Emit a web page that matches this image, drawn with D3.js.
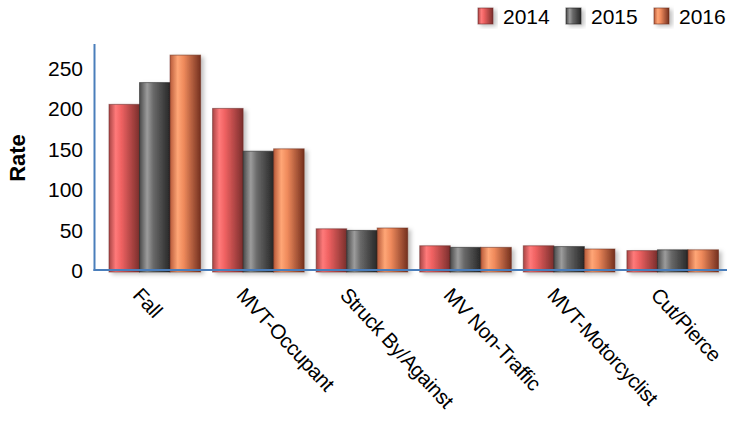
<!DOCTYPE html>
<html>
<head>
<meta charset="utf-8">
<script src="https://cdn.jsdelivr.net/npm/d3@7"></script>
<style>
  body { margin: 0; background: #fff; }
  svg { display: block; font-family: "Liberation Sans", Arial, sans-serif; }
</style>
</head>
<body>
<svg id="chart" width="730" height="424"></svg>
<script>
const categories = ["Fall", "MVT-Occupant", "Struck By/Against", "MV Non-Traffic", "MVT-Motorcyclist", "Cut/Pierce"];
const seriesNames = ["2014", "2015", "2016"];
const values2014 = [205, 200, 51, 30, 30, 24];
const values2015 = [232, 147, 49, 28, 29, 25];
const values2016 = [266, 150, 52, 28, 26, 25];
const yTicks = [0, 50, 100, 150, 200, 250];
const yTitle = "Rate";

const seriesValues = [values2014, values2015, values2016];
const gradStops = [
  [["0%", "#a84444"], ["22%", "#ff7a7a"], ["40%", "#f06262"], ["100%", "#7a2e2c"]],
  [["0%", "#4a4a4a"], ["25%", "#9c9c9c"], ["45%", "#6a6a6a"], ["100%", "#262626"]],
  [["0%", "#b85a3a"], ["25%", "#ffa676"], ["45%", "#ef8a5c"], ["100%", "#74301e"]]
];
const edgeColors = ["#6a2a28", "#202020", "#6a2c1c"];

const svg = d3.select("#chart");
const defs = svg.append("defs");
gradStops.forEach((stops, i) => {
  const g = defs.append("linearGradient").attr("id", "g" + i)
    .attr("x1", "0%").attr("x2", "100%").attr("y1", "0%").attr("y2", "0%");
  stops.forEach(s => g.append("stop").attr("offset", s[0]).attr("stop-color", s[1]));
});
const f = defs.append("filter").attr("id", "shadow")
  .attr("x", "-20%").attr("y", "-20%").attr("width", "150%").attr("height", "150%");
f.append("feDropShadow").attr("dx", 3).attr("dy", 2).attr("stdDeviation", 2)
  .attr("flood-color", "#000").attr("flood-opacity", 0.25);

const y = d3.scaleLinear().domain([0, 280]).range([270, 43.8]);
const x0 = d3.scaleBand().domain(categories).range([103, 724.5]).padding(0);
const x1 = d3.scaleBand().domain(seriesNames).range([6, x0.bandwidth() - 6]).padding(0);

// bars
const groups = svg.append("g").selectAll("g").data(categories).join("g")
  .attr("transform", d => `translate(${x0(d)},0)`);
groups.selectAll("rect").data((c, ci) => seriesNames.map((s, si) => ({s, si, v: seriesValues[si][ci]})))
  .join("rect")
  .attr("x", d => x1(d.s))
  .attr("y", d => y(d.v))
  .attr("width", x1.bandwidth())
  .attr("height", d => y(0) - y(d.v) + 2)
  .attr("fill", d => `url(#g${d.si})`)
  .attr("stroke", d => edgeColors[d.si])
  .attr("stroke-opacity", 0.55)
  .attr("stroke-width", 1)
  .attr("filter", "url(#shadow)");

// axes lines
svg.append("line").attr("x1", 94.5).attr("x2", 94.5).attr("y1", 44).attr("y2", 271)
  .attr("stroke", "#4a7ebb").attr("stroke-width", 2);
svg.append("line").attr("x1", 93.5).attr("x2", 727).attr("y1", y(0)).attr("y2", y(0))
  .attr("stroke", "#4a7ebb").attr("stroke-width", 2);

// y axis tick labels
const yAxis = d3.axisLeft(y).tickValues(yTicks).tickSize(0).tickPadding(0);
const yg = svg.append("g").attr("transform", "translate(83,0)").call(yAxis);
yg.select(".domain").remove();
yg.selectAll("text").attr("font-size", 21).attr("fill", "#000")
  .attr("font-family", "Liberation Sans, Arial, sans-serif").attr("dy", "0.36em");

// y title
svg.append("text").attr("transform", "translate(25,158) rotate(-90)")
  .attr("text-anchor", "middle").attr("font-size", 22).attr("font-weight", "bold")
  .text(yTitle);

// x labels
const xAxis = d3.axisBottom(x0).tickSize(0).tickPadding(0);
const xg = svg.append("g").attr("transform", `translate(0,${y(0)})`).call(xAxis);
xg.select(".domain").remove();
xg.selectAll("text")
  .attr("font-size", 20.5).attr("fill", "#000")
  .attr("font-family", "Liberation Sans, Arial, sans-serif")
  .attr("text-anchor", "start")
  .attr("y", 0).attr("dy", 0)
  .attr("letter-spacing", -0.4)
  .attr("transform", "translate(-23,26) rotate(47)");

// legend
const legend = svg.append("g").selectAll("g").data(seriesNames).join("g")
  .attr("transform", (d, i) => `translate(${478 + i * 88},8)`);
legend.append("rect").attr("width", 15).attr("height", 16)
  .attr("fill", (d, i) => `url(#g${i})`)
  .attr("stroke", (d, i) => edgeColors[i]).attr("stroke-opacity", 0.6)
  .attr("filter", "url(#shadow)");
legend.append("text").attr("x", 25).attr("y", 15.5).attr("font-size", 21)
  .attr("fill", "#000").text(d => d);
</script>
</body>
</html>
